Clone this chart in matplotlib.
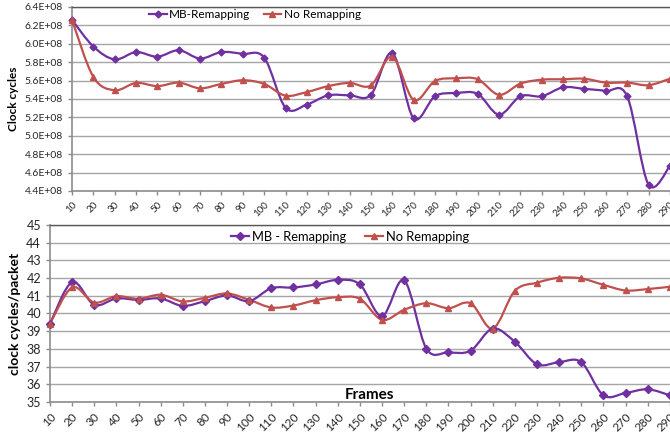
import numpy as np
import matplotlib
matplotlib.use("Agg")
import matplotlib.pyplot as plt
from matplotlib.path import Path
from matplotlib.patches import PathPatch
from matplotlib.lines import Line2D

plt.rcParams['font.family'] = ['Lato', 'DejaVu Sans']

frames = [10, 20, 30, 40, 50, 60, 70, 80, 90, 100, 110, 120, 130, 140, 150,
          160, 170, 180, 190, 200, 210, 220, 230, 240, 250, 260, 270, 280, 290]
frame_labels = [str(f) for f in frames]

# Top chart: clock cycles (x 1E+08)
mb_cycles = [6.26, 5.97, 5.83, 5.91, 5.86, 5.93, 5.84, 5.91, 5.89, 5.85,
             5.305, 5.34, 5.44, 5.44, 5.445, 5.90, 5.19, 5.43, 5.465, 5.455,
             5.23, 5.43, 5.43, 5.527, 5.51, 5.487, 5.43, 4.47, 4.67]
nr_cycles = [6.26, 5.64, 5.495, 5.575, 5.54, 5.578, 5.516, 5.564, 5.604, 5.564,
             5.436, 5.476, 5.54, 5.575, 5.548, 5.86, 5.39, 5.596, 5.625, 5.615,
             5.445, 5.567, 5.61, 5.615, 5.62, 5.578, 5.578, 5.55, 5.62]
top_yticks = [4.4, 4.6, 4.8, 5.0, 5.2, 5.4, 5.6, 5.8, 6.0, 6.2, 6.4]
top_ylabels = ['4.4E+08', '4.6E+08', '4.8E+08', '5.0E+08', '5.2E+08', '5.4E+08',
               '5.6E+08', '5.8E+08', '6.0E+08', '6.2E+08', '6.4E+08']

# Bottom chart: clock cycles / packet
mb_packet = [39.43, 41.77, 40.49, 40.85, 40.77, 40.85, 40.43, 40.70, 41.02, 40.70,
             41.43, 41.47, 41.64, 41.90, 41.64, 39.85, 41.87, 38.02, 37.81, 37.90,
             39.15, 38.40, 37.13, 37.25, 37.25, 35.38, 35.51, 35.72, 35.38]
nr_packet = [39.43, 41.47, 40.62, 40.98, 40.83, 41.06, 40.68, 40.89, 41.13, 40.77,
             40.34, 40.45, 40.75, 40.92, 40.83, 39.64, 40.21, 40.58, 40.30, 40.58,
             39.15, 41.28, 41.74, 42.02, 41.98, 41.62, 41.30, 41.38, 41.51]
bot_yticks = [35, 36, 37, 38, 39, 40, 41, 42, 43, 44, 45]

PURPLE = '#7030A0'
RED = '#C0504D'
GRID = '#a6a6a6'
AXC = '#8c8c8c'


def smooth_path(x, y):
    x = np.asarray(x, float)
    y = np.asarray(y, float)
    pts = np.column_stack([x, y])
    n = len(pts)
    verts = [pts[0]]
    codes = [Path.MOVETO]
    for i in range(n - 1):
        p0 = pts[i - 1] if i > 0 else pts[i]
        p1 = pts[i]
        p2 = pts[i + 1]
        p3 = pts[i + 2] if i + 2 < n else pts[i + 1]
        c1 = p1 + (p2 - p0) / 6.0
        c2 = p2 - (p3 - p1) / 6.0
        verts += [c1, c2, p2]
        codes += [Path.CURVE4] * 3
    return Path(verts, codes)


def draw_series(ax, x, y, color, marker, ms):
    patch = PathPatch(smooth_path(x, y), facecolor='none', edgecolor=color,
                      lw=1.6, zorder=3)
    ax.add_patch(patch)
    ax.plot(x, y, linestyle='none', marker=marker, color=color, ms=ms,
            zorder=4, clip_on=False)


def style_axes(ax):
    ax.grid(axis='y', color=GRID, lw=1.0)
    ax.set_axisbelow(True)
    for s in ['left', 'bottom']:
        ax.spines[s].set_color(AXC)
        ax.spines[s].set_linewidth(1.2)
    ax.spines['top'].set_color('#595959')
    ax.spines['top'].set_linewidth(1.0)
    ax.spines['right'].set_color('#595959')
    ax.spines['right'].set_linewidth(1.0)
    ax.tick_params(axis='both', direction='out', color=AXC, length=3, width=1)


fig = plt.figure(figsize=(6.7, 4.32), dpi=100)

# Top axes
ax1 = fig.add_axes([72 / 670, 1 - 191 / 432, 1 - 72 / 670 + 0.003, (191 - 7) / 432])
draw_series(ax1, frames, mb_cycles, PURPLE, 'D', 3.5)
draw_series(ax1, frames, nr_cycles, RED, '^', 4.5)
ax1.set_xlim(10, 291)
ax1.set_ylim(4.4, 6.4)
ax1.set_yticks(top_yticks)
ax1.set_yticklabels(top_ylabels, fontsize=7.5, color='#262626')
ax1.set_xticks(frames)
ax1.set_xticklabels(frame_labels, rotation=45, ha='right', rotation_mode='anchor',
                    fontsize=7, color='#262626')
ax1.set_ylabel('Clock cycles', fontsize=8.5, fontweight='bold', labelpad=4)
style_axes(ax1)

# Bottom axes
ax2 = fig.add_axes([50 / 670, 1 - 402 / 432, 1 - 50 / 670 + 0.003, (402 - 225) / 432])
draw_series(ax2, frames, mb_packet, PURPLE, 'D', 4.5)
draw_series(ax2, frames, nr_packet, RED, '^', 4.5)
ax2.set_xlim(10, 291)
ax2.set_ylim(35, 45)
ax2.set_yticks(bot_yticks)
ax2.set_yticklabels([str(v) for v in bot_yticks], fontsize=9, color='#262626')
ax2.set_xticks(frames)
ax2.set_xticklabels(frame_labels, rotation=45, ha='right', rotation_mode='anchor',
                    fontsize=8.5, color='#262626')
ax2.set_ylabel('clock cycles/packet', fontsize=10, fontweight='bold', labelpad=4)
ax2.text(370 / 670, 1 - 395 / 432, 'Frames', transform=fig.transFigure,
         ha='center', va='center', fontsize=11, fontweight='bold')
style_axes(ax2)

# Legends
h_mb1 = Line2D([], [], color=PURPLE, lw=1.6, marker='D', ms=3.5)
h_nr1 = Line2D([], [], color=RED, lw=1.6, marker='^', ms=4)
fig.legend([h_mb1, h_nr1], ['MB-Remapping', 'No Remapping'], ncol=2,
           loc='center', bbox_to_anchor=(255 / 670, 1 - 15 / 432), frameon=False,
           fontsize=8.5, handlelength=1.5, handletextpad=0.2, columnspacing=1.1,
           borderpad=0.1)
h_mb2 = Line2D([], [], color=PURPLE, lw=1.6, marker='D', ms=4.5)
h_nr2 = Line2D([], [], color=RED, lw=1.6, marker='^', ms=4.5)
fig.legend([h_mb2, h_nr2], ['MB - Remapping', 'No Remapping'], ncol=2,
           loc='center', bbox_to_anchor=(350 / 670, 1 - 237 / 432), frameon=False,
           fontsize=9.3, handlelength=1.4, handletextpad=0.2, columnspacing=1.5,
           borderpad=0.1)

fig.savefig('out.png', dpi=100)
